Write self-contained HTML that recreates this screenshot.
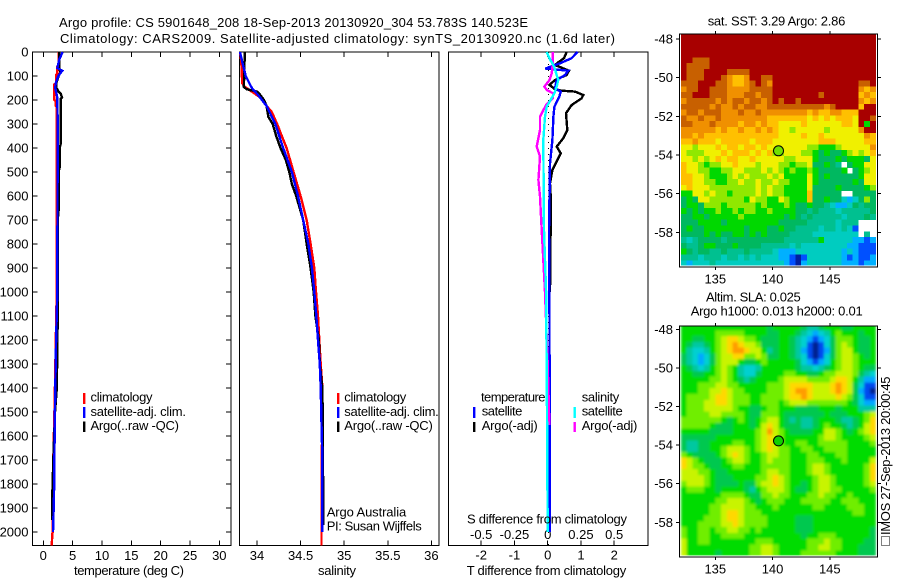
<!DOCTYPE html>
<html lang="en">
<head>
<meta charset="utf-8">
<title>Argo profile 5901648_208</title>
<style>
html,body{margin:0;padding:0;background:#fff;}
svg{display:block;font-family:"Liberation Sans",sans-serif;font-size:13px;fill:#000;}
</style>
</head>
<body>
<svg id="chart" xmlns="http://www.w3.org/2000/svg" width="900" height="580" viewBox="0 0 900 580">
<defs>
<clipPath id="c1"><rect x="680" y="34.5" width="196.5" height="231"/></clipPath>
<clipPath id="c2"><rect x="680" y="326" width="196.5" height="229.5"/></clipPath>
<filter id="soft" x="-5%" y="-5%" width="110%" height="110%"><feGaussianBlur stdDeviation="1.2"/></filter>
</defs>
<rect width="900" height="580" fill="#fff"/>
<text x="59" y="27" textLength="469" lengthAdjust="spacing">Argo profile: CS 5901648_208 18-Sep-2013 20130920_304 53.783S 140.523E</text>
<text x="60" y="43" textLength="555" lengthAdjust="spacing">Climatology: CARS2009. Satellite-adjusted climatology: synTS_20130920.nc (1.6d later)</text>

<g id="series"></g>

<g>
<rect x="83" y="393" width="2.4" height="11" fill="#f00"/>
<rect x="83" y="407" width="2.4" height="11" fill="#00f"/>
<rect x="83" y="421.5" width="2.4" height="10.5" fill="#000"/>
<text x="90.5" y="401.7" textLength="62">climatology</text>
<text x="90.5" y="416" textLength="95.5">satellite-adj. clim.</text>
<text x="90.5" y="430" textLength="88.5">Argo(..raw -QC)</text>
</g>
<g>
<rect x="337" y="393" width="2.4" height="11" fill="#f00"/>
<rect x="337" y="407" width="2.4" height="11" fill="#00f"/>
<rect x="337" y="421.5" width="2.4" height="10.5" fill="#000"/>
<text x="344.3" y="401.7" textLength="62">climatology</text>
<text x="344.3" y="416" textLength="94.5">satellite-adj. clim.</text>
<text x="344.3" y="430" textLength="88.5">Argo(..raw -QC)</text>
<text x="326.7" y="516.7" textLength="79.5">Argo Australia</text>
<text x="326.7" y="530.7" textLength="95">PI: Susan Wijffels</text>
</g>
<g>
<text x="481" y="401.7" textLength="64.5">temperature</text>
<text x="481.7" y="415.7" textLength="40.7">satellite</text>
<text x="481.7" y="430" textLength="56">Argo(-adj)</text>
<rect x="473" y="407" width="2.4" height="11" fill="#00f"/>
<rect x="473" y="422" width="2.4" height="10" fill="#000"/>
<text x="581.7" y="401.7" textLength="37.6">salinity</text>
<text x="581.7" y="415.7" textLength="41">satellite</text>
<text x="581.7" y="430" textLength="55.6">Argo(-adj)</text>
<rect x="573.5" y="407" width="2.4" height="11" fill="#0ff"/>
<rect x="573.5" y="422" width="2.4" height="10" fill="#f0f"/>
</g>

<text x="74" y="575" textLength="110">temperature (deg C)</text>
<text x="318" y="575" textLength="38">salinity</text>
<text x="466.7" y="575" textLength="159.5">T difference from climatology</text>
<text x="467" y="523.5" textLength="160">S difference from climatology</text>

<text x="707.7" y="25.7" textLength="137.6">sat. SST: 3.29 Argo: 2.86</text>
<text x="706" y="301.7" textLength="94.7">Altim. SLA: 0.025</text>
<text x="690.7" y="315.7" textLength="172">Argo h1000: 0.013 h2000: 0.01</text>
<rect x="881.5" y="536.5" width="8" height="9" fill="none" stroke="#000" stroke-width="1" stroke-dasharray="1 1" shape-rendering="crispEdges"/>
<text transform="translate(890 535) rotate(-90)" textLength="158.5">IMOS 27-Sep-2013 20:00:45</text>
</svg>
<script>
const depthTicks = [0,100,200,300,400,500,600,700,800,900,1000,1100,1200,1300,1400,1500,1600,1700,1800,1900,2000];
const tempTicks = [0,5,10,15,20,25,30];
const salTicks = [34,34.5,35,35.5,36];
const tDiffTicks = [-2,-1,0,1,2];
const sDiffTicks = [-0.5,-0.25,0,0.25,0.5];
const lonTicks = [135,140,145];
const latTicks = [-48,-50,-52,-54,-56,-58];

const climTDepth = [0,60,62,90,95,130,135,200,205,225,230,740,1000,1450,1700,2000,2005,2055];
const climT = [2.6,2.6,2.39,2.39,2.2,2.2,1.9,1.9,2.15,2.15,2.28,2.28,2.28,1.95,1.7,1.62,1.55,1.43];
const satTDepth = [0,30,67,78,100,130,150,190,300,1000,1200,1500,1850,2000];
const satT = [3.3,2.73,2.39,3.24,2.56,2.11,2.05,2.39,2.45,2.39,2.18,1.98,1.82,1.65];
const argoTDepth = [0,60,85,100,130,150,165,175,190,195,380,400,480,500,660,700,1110,1400,1500,1700,1830,1950];
const argoT = [2.7,2.7,2.9,2.6,2.2,2.25,2.6,3,3.2,3,3,2.8,2.8,2.6,2.6,2.45,2.45,2.3,2,1.7,1.55,1.55];

const climSDepth = [0,40,130,145,165,190,225,250,300,400,500,600,700,800,900,1000,1100,1200,1300,1400,1600,2055];
const climS = [33.805,33.82,33.83,33.86,33.94,34.04,34.11,34.17,34.23,34.34,34.42,34.5,34.57,34.615,34.657,34.677,34.7,34.715,34.73,34.75,34.745,34.74];
const satSDepth = [0,40,100,150,180,225,300,400,500,600,700,800,900,1000,1100,1200,1300,1400,1550,1700,2000];
const satS = [33.805,33.83,33.87,33.94,34.015,34.11,34.21,34.3,34.4,34.47,34.53,34.59,34.63,34.657,34.68,34.7,34.72,34.73,34.74,34.75,34.75];
const argoSDepth = [0,145,155,165,180,200,225,270,300,350,400,450,500,550,600,700,800,900,1000,1100,1200,1300,1400,1550,1970];
const argoS = [33.86,33.85,33.88,34,34.04,34.08,34.11,34.13,34.18,34.22,34.27,34.33,34.37,34.4,34.45,34.53,34.57,34.615,34.65,34.67,34.71,34.72,34.75,34.755,34.76];

const satDTDepth = [0,26,47,68,69,78,96,117,151,165,186,228,269,366,464,741,1000,2000];
const satDT = [0.9,0.72,0.37,-0.05,-0.05,0.62,0.52,0.27,0.22,0.39,0.35,0.2,0.17,0.14,0.07,0.04,0.05,0.07];
const argoDTDepth = [0,26,43,54,78,96,117,137,155,161,165,179,193,221,255,325,359,394,422,450,491,547,602,672,800,1000];
const argoDT = [0.57,0.49,0.32,0.22,0.64,0.57,0.22,0.05,0.22,0.42,0.82,1.07,1.02,0.72,0.55,0.59,0.47,0.27,0.39,0.29,0.14,0.07,0.09,0.1,0.08,0.07];
const argoDSDepth = [0,47,89,117,144,158,172,193,221,269,325,394,436,533,602,741,1000,1300,1553];
const argoDS = [0.038,0.038,0.03,0.0125,-0.025,-0.0075,0.04,0.04,-0.0125,-0.058,-0.058,-0.083,-0.058,-0.07,-0.058,-0.045,-0.02,0,0.0125];
const satDSDepth = [0,26,61,117,144,172,228,269,366,741,1000,1500,2000];
const satDS = [-0.0075,0.0125,0.048,0.08,0.068,0.05,-0.0075,-0.02,-0.033,-0.028,-0.012,-0.005,0];

const argoFloat = [140.523,-53.783];
const sstColors = ['#0020a0','#0050ff','#00b0ff','#00ccc0','#00c090','#00b860','#00d800','#90e800','#f0f000','#ffc000','#f09000','#c86000','#a80000'];
const slaColors = ['#002090','#0048f0','#00a8ff','#00d0d0','#00c8a0','#00c850','#00dc00','#70ee00','#c8f400','#ffd800','#ff9c00','#c86000','#a80000'];

const sstGrid = [
[12,12,12,12,12,12,12,12,12,12,12,12,12,12,12,12,12,12,12,12,12,12,12,12,12,12,12,12,12,12,12,12,12,12],
[12,12,12,12,12,12,12,12,12,12,12,12,12,12,12,12,12,12,12,12,12,12,12,12,12,12,12,12,12,12,12,12,12,12],
[12,12,12,12,12,12,12,12,12,12,12,12,12,12,12,12,12,12,12,12,12,12,12,12,12,12,12,12,12,12,12,12,12,12],
[12,12,12,12,12,12,12,12,12,12,12,12,12,12,12,12,12,12,12,12,12,12,12,12,12,12,12,12,12,12,12,12,12,12],
[12,12,11,11,11,12,12,12,12,12,12,12,12,12,12,12,12,12,12,12,12,12,12,12,12,12,12,12,12,12,12,12,12,12],
[12,11,11,11,11,12,12,12,12,12,12,12,12,12,12,12,12,12,12,12,12,12,12,12,12,12,12,12,12,12,12,12,12,12],
[12,11,11,11,12,12,12,12,11,11,11,11,12,12,12,12,12,12,12,12,12,12,12,12,12,12,12,12,12,12,12,12,12,12],
[12,11,11,11,12,12,12,11,10,9,9,10,12,12,11,11,12,12,12,12,12,12,12,12,12,12,12,12,12,12,12,12,12,12],
[11,11,11,12,12,12,11,11,10,9,9,10,11,12,11,10,12,12,12,12,12,12,12,12,12,12,12,12,12,12,12,11,11,12],
[10,11,11,12,12,11,11,11,10,10,10,10,11,11,11,11,12,12,12,12,12,12,12,12,12,12,12,12,12,12,12,10,9,10],
[11,11,12,12,12,11,11,11,10,10,10,11,11,10,11,11,12,12,12,12,12,12,12,12,11,12,12,12,12,12,12,9,10,9],
[10,11,11,11,11,11,10,11,10,11,11,10,11,11,10,11,12,11,12,12,11,12,12,12,12,12,12,12,12,12,12,10,9,10],
[11,11,11,11,11,10,11,10,10,11,10,11,11,10,10,11,11,11,11,11,11,11,11,11,11,10,11,12,12,12,12,9,12,12],
[10,11,11,10,11,11,11,10,10,10,11,10,10,11,10,10,10,10,10,10,10,10,9,10,9,9,10,10,9,9,9,12,12,12],
[11,10,10,11,10,10,11,10,10,10,10,10,10,10,10,9,9,9,9,9,9,9,8,9,8,9,8,9,9,9,8,12,12,11],
[11,11,10,10,10,11,10,10,10,10,9,10,10,9,10,9,9,8,8,8,8,9,8,8,8,8,8,8,9,9,8,12,6,12],
[10,10,10,10,10,10,9,10,9,9,10,9,9,10,9,10,9,8,8,7,8,8,8,8,8,7,8,8,8,8,8,10,12,12],
[10,10,9,10,9,9,9,9,9,9,9,9,9,9,9,9,9,8,8,8,8,9,8,8,9,8,8,8,8,8,8,8,10,9],
[9,9,10,9,9,9,8,9,9,9,9,9,8,9,9,9,8,8,8,8,8,8,8,8,9,9,9,8,8,8,8,8,9,9],
[8,8,7,8,8,8,9,8,9,9,8,9,9,8,9,8,8,8,8,8,8,8,7,7,6,6,6,7,8,8,8,8,8,10],
[8,7,7,7,8,8,8,9,8,9,9,9,8,9,8,9,7,7,8,8,8,7,7,6,5,6,5,5,6,7,8,7,8,9],
[8,8,7,8,7,8,9,8,9,9,8,8,9,8,8,8,8,8,7,7,8,8,8,6,5,5,5,6,5,6,6,6,5,8],
[9,8,8,7,6,7,7,8,8,9,8,8,8,7,8,8,8,7,7,6,7,7,8,5,5,6,5,4,-1,5,6,6,8,8],
[9,8,8,7,7,6,6,7,7,8,8,7,7,7,8,7,8,7,6,7,6,6,7,6,5,5,5,5,6,-1,5,6,7,8],
[9,9,8,8,7,6,6,6,7,8,7,8,7,7,7,8,7,8,6,6,6,6,8,6,5,6,5,5,5,5,5,6,8,8],
[9,9,8,8,7,7,6,6,7,7,8,7,7,8,7,7,8,7,7,6,6,6,8,6,5,5,5,5,5,5,6,5,8,8],
[8,9,8,8,8,7,7,7,7,7,7,7,7,8,7,8,7,7,6,6,6,6,8,5,5,5,5,6,5,5,5,5,6,7],
[6,6,8,8,7,8,7,7,6,7,7,7,7,8,7,8,7,7,6,6,6,6,9,5,5,5,5,5,-1,-1,5,5,5,5],
[5,6,5,8,8,7,7,7,7,7,7,6,8,7,7,6,6,8,7,6,6,6,9,5,5,6,5,5,3,2,3,5,7,5],
[5,6,6,5,7,7,7,6,7,7,7,7,7,6,7,6,6,6,7,6,5,5,6,5,5,4,3,2,2,3,5,4,5,5],
[6,5,6,5,6,6,7,6,6,7,6,7,7,6,6,7,6,6,6,6,5,5,4,5,4,4,4,3,4,4,4,4,4,5],
[5,5,6,6,5,6,6,6,6,6,7,6,6,6,6,6,6,6,5,6,5,4,5,4,4,4,4,4,3,4,4,4,5,4],
[5,5,5,6,6,6,6,5,6,6,6,6,6,6,6,6,6,5,5,5,5,5,4,4,4,4,4,3,4,4,4,-1,-1,-1],
[5,6,5,5,6,6,6,6,6,6,6,5,6,6,6,5,5,6,5,5,4,4,4,4,3,4,4,3,4,3,1,-1,-1,-1],
[5,5,5,5,6,5,6,5,5,6,6,5,6,5,6,5,5,5,5,4,4,4,4,3,3,3,3,3,3,3,3,-1,4,-1],
[4,3,4,5,5,5,5,4,5,5,5,5,5,5,5,5,5,5,4,4,4,4,4,4,6,3,3,3,3,3,2,2,1,2],
[5,4,4,5,6,6,5,5,5,6,5,5,5,5,4,4,4,4,4,3,4,3,3,3,3,3,3,3,3,2,2,1,1,1],
[6,5,4,5,5,4,4,5,4,4,4,5,4,4,4,4,3,2,2,2,3,3,3,3,3,3,3,3,2,3,2,1,1,1],
[4,4,4,3,4,4,4,3,4,4,3,4,3,4,3,3,3,2,2,1,0,1,3,3,3,3,3,3,2,1,2,1,1,2],
[3,2,3,3,3,4,3,3,3,3,3,3,3,3,3,3,3,3,2,1,0,2,3,3,3,3,3,3,2,2,2,1,2,2]
];

const slaGrid = [
[6,6,6,6,6,6,6,6,6,6,6,6,6,6,6,5,6,6,6,6,6,5,4,4,5,6,6,6,5,5,6,6,6,6],
[6,6,6,6,6,6,7,7,7,7,7,6,6,6,6,5,5,6,6,6,5,4,3,2,3,4,6,7,6,6,6,5,6,6],
[6,6,5,5,6,6,7,8,9,9,8,7,7,6,5,5,5,6,6,5,4,3,2,1,2,3,5,7,7,7,6,5,5,6],
[6,5,4,4,5,6,7,8,9,10,9,8,8,7,5,5,5,6,6,5,4,3,1,0,1,3,5,7,8,7,6,5,5,6],
[6,4,3,3,4,6,7,8,9,10,10,9,8,8,6,4,5,6,6,5,4,2,1,0,1,2,5,7,8,8,6,5,5,6],
[5,4,3,2,3,5,7,8,8,9,9,7,7,8,7,5,5,6,6,5,4,3,1,0,1,3,5,7,8,8,7,6,5,6],
[5,4,3,2,3,5,7,8,8,8,6,5,5,6,7,6,6,6,6,6,5,3,2,1,2,3,6,7,8,8,7,6,6,6],
[6,5,4,3,4,6,7,8,7,6,4,3,3,4,6,6,6,6,6,6,5,4,4,3,4,5,6,7,8,8,7,6,5,5],
[6,6,5,5,6,6,7,8,7,6,4,3,3,5,6,6,6,6,7,7,6,6,5,5,6,7,7,8,8,8,7,5,4,3],
[6,6,6,6,6,7,7,8,7,6,5,4,5,6,6,6,6,7,8,8,8,8,7,7,7,7,8,9,9,8,6,4,2,2],
[6,6,6,7,7,7,8,8,7,7,6,6,6,6,6,7,7,7,8,9,9,9,9,8,8,8,9,10,9,8,5,3,1,1],
[6,6,6,7,7,8,8,9,8,7,7,6,6,6,6,7,7,7,8,9,10,10,9,8,8,8,9,10,9,8,5,2,1,0],
[6,7,7,7,7,8,9,9,8,7,7,7,6,6,7,7,7,7,8,9,9,10,9,8,8,8,8,9,8,7,5,3,1,1],
[6,7,7,7,8,8,9,9,8,7,7,7,6,6,7,7,7,6,7,8,8,8,7,7,7,7,7,7,7,6,5,3,2,2],
[6,7,7,7,8,8,8,8,8,7,6,6,5,5,6,7,7,6,6,6,5,5,5,5,6,6,6,5,6,6,6,4,4,4],
[6,7,7,7,7,8,8,7,7,7,7,6,5,5,7,7,7,6,5,5,5,5,5,5,5,6,5,5,5,6,6,6,7,8],
[7,7,7,7,7,7,7,6,5,6,7,6,5,6,7,8,8,6,5,4,5,4,4,5,6,6,6,5,4,4,5,6,7,9],
[7,7,7,7,7,6,5,5,5,6,6,6,5,6,8,9,8,6,5,5,5,4,4,5,6,7,6,6,5,4,5,6,8,9],
[6,6,6,6,6,5,5,5,5,6,6,6,6,7,8,10,8,7,6,5,5,5,5,6,6,8,8,7,6,5,6,7,8,9],
[5,5,5,5,5,5,6,6,6,6,6,6,6,7,8,9,8,7,6,6,6,6,6,6,7,8,8,7,6,6,6,6,7,8],
[5,4,4,5,5,6,6,6,6,7,7,6,6,7,8,9,8,7,6,6,7,7,6,6,7,7,7,7,7,6,6,6,6,7],
[5,4,4,5,5,6,6,7,8,8,8,7,6,7,8,9,8,7,7,6,6,7,7,6,6,7,7,7,7,6,6,6,6,6],
[7,6,5,5,5,5,6,7,8,9,8,7,6,6,7,8,8,7,7,6,6,6,7,7,6,6,6,7,7,6,6,6,6,6],
[9,8,7,6,5,5,5,6,7,8,8,7,6,6,7,8,7,7,7,6,6,6,7,7,7,6,6,6,7,6,6,6,6,8],
[9,8,7,7,6,5,5,6,6,7,7,6,6,6,7,7,7,7,7,6,6,6,7,8,8,7,6,6,6,6,6,6,7,9],
[8,8,8,7,7,6,5,5,6,6,6,6,6,6,7,8,8,7,7,6,6,6,7,8,8,7,6,6,6,6,6,6,7,9],
[8,8,8,8,7,6,5,5,5,6,6,6,6,7,7,8,9,8,7,6,6,6,6,7,8,8,7,6,6,6,6,6,7,9],
[7,8,8,8,7,6,5,5,5,5,6,5,5,7,8,8,9,8,7,6,6,5,6,7,8,8,7,6,6,6,6,6,7,8],
[6,7,7,7,6,6,5,6,6,6,6,5,4,6,7,8,8,8,7,6,5,5,6,7,8,8,7,7,6,6,6,6,6,7],
[6,6,6,6,6,6,6,7,7,7,7,6,5,5,7,7,8,7,7,6,6,6,7,7,8,7,7,6,6,7,6,6,6,6],
[6,6,6,6,6,6,7,7,8,8,8,7,6,5,6,7,7,7,6,6,6,7,7,7,7,7,6,6,7,7,7,6,6,6],
[6,6,6,6,6,7,7,8,8,8,8,7,7,6,6,6,7,6,6,6,6,6,6,7,7,6,6,6,6,7,7,7,6,6],
[6,6,6,6,6,7,7,8,9,9,8,7,7,7,6,6,6,6,6,6,6,6,6,6,6,6,6,6,6,6,7,7,6,6],
[6,6,6,6,7,7,7,8,9,9,8,7,7,7,7,6,6,6,6,6,5,5,5,6,6,6,6,6,6,6,6,6,6,6],
[6,6,6,7,7,7,7,8,8,9,8,7,7,7,7,6,6,6,6,6,5,5,5,6,6,6,6,6,6,6,6,6,6,6],
[7,6,6,7,7,6,7,7,8,8,7,7,6,7,6,6,6,6,6,6,5,5,5,6,6,6,6,6,6,6,6,6,6,5],
[7,6,6,7,7,6,6,7,7,7,7,6,6,6,6,6,6,6,6,6,6,5,6,6,7,7,7,6,6,6,6,6,6,5],
[8,6,6,7,7,6,6,6,6,6,6,6,6,7,7,7,6,6,6,6,6,6,7,7,7,8,7,7,6,6,6,6,5,5],
[8,6,6,6,6,6,6,6,6,6,6,6,7,7,8,8,7,6,6,6,6,6,7,7,8,8,7,7,6,6,6,5,5,5],
[8,6,6,6,6,6,5,6,6,6,6,6,7,7,8,8,7,6,6,6,6,7,7,7,7,7,7,6,6,6,6,5,5,5]
];

const NS = 'http://www.w3.org/2000/svg';
const root = document.getElementById('series');

const xTemp = v => 43.3 + 5.867 * v;
const xSal = v => 257 + 87.2 * (v - 34);
const xDT = v => 547.7 + 33.25 * v;
const xDS = v => 547.7 + 133 * v;
const yDepth = d => 52 + 0.2401 * d;
const xLon = v => 715.3 + 11.45 * (v - 135);
const yLat1 = v => 39 + 19.33 * (-48 - v);
const yLat2 = v => 329.3 + 19.3 * (-48 - v);

function make(tag, attrs, parent) {
  const n = document.createElementNS(NS, tag);
  for (const k in attrs) n.setAttribute(k, attrs[k]);
  (parent || root).appendChild(n);
  return n;
}
function hline(x1, y1, x2, y2, parent) {
  return make('line', {x1: x1, y1: y1, x2: x2, y2: y2, stroke: '#000', 'stroke-width': 1, 'shape-rendering': 'crispEdges'}, parent);
}
function label(x, y, s, anchor, parent) {
  const t = make('text', {x: x, y: y, 'text-anchor': anchor}, parent);
  t.textContent = s;
  return t;
}
function profile(depths, values, xf, color, parent) {
  const pts = depths.map((d, i) => xf(values[i]).toFixed(1) + ',' + yDepth(d).toFixed(1)).join(' ');
  return make('polyline', {points: pts, fill: 'none', stroke: color, 'stroke-width': 2.4, 'shape-rendering': 'crispEdges'}, parent);
}
function colorOf(level, palette) {
  return palette[Math.max(0, Math.min(palette.length - 1, Math.round(level)))];
}

/* heat maps */
function drawMap(grid, yLat, name, clip, blur, palette) {
  const g = make('g', {'clip-path': 'url(#' + clip + ')'});
  
  
  const inner = make('g', blur ? {filter: 'url(#soft)'} : {}, g);
  grid.forEach((row, j) => {
    row.forEach((val, i) => {
      if (val < 0) return;
      const x0 = xLon(132 + 0.5 * i), x1 = xLon(132 + 0.5 * (i + 1));
      const y0 = yLat(-47.75 - 0.3 * j), y1 = yLat(-47.75 - 0.3 * (j + 1));
      const r = make('rect', {x: x0.toFixed(2), y: y0.toFixed(2), width: (x1 - x0 + 0.3).toFixed(2), height: (y1 - y0 + 0.3).toFixed(2), fill: colorOf(val, palette), 'shape-rendering': 'crispEdges'}, inner);
      
      
    });
  });
}
drawMap(sstGrid, yLat1, 'sst-heatmap', 'c1', false, sstColors);
drawMap(slaGrid, yLat2, 'sla-heatmap', 'c2', true, slaColors);

/* map frames, ticks, labels */
function mapAxes(top, bottom, yLat, name, fillColor) {
  const g = make('g', {});
  
  
  make('rect', {x: 679.5, y: top, width: 198, height: bottom - top, fill: 'none', stroke: '#000', 'stroke-width': 1, 'shape-rendering': 'crispEdges'}, g);
  lonTicks.forEach(v => {
    hline(xLon(v), top - 3, xLon(v), top, g);
    hline(xLon(v), bottom, xLon(v), bottom + 3, g);
    const t = label(xLon(v), bottom + 16.5, String(v), 'middle', g);
    
    
  });
  latTicks.forEach(v => {
    hline(676, yLat(v), 679.5, yLat(v), g);
    hline(877.5, yLat(v), 881, yLat(v), g);
    const t = label(673, yLat(v) + 4.5, String(v), 'end', g);
    
    
  });
  const c = make('circle', {cx: xLon(argoFloat[0]).toFixed(1), cy: yLat(argoFloat[1]).toFixed(1), r: 5, fill: fillColor, stroke: '#000', 'stroke-width': 1}, g);
  
  
}
mapAxes(34, 267, yLat1, 'sst-map-axes', '#70e000');
mapAxes(326, 557, yLat2, 'sla-map-axes', '#10d000');

/* profile panels */
function panel(left, right, name) {
  const g = make('g', {});
  
  
  make('rect', {x: left, y: 52, width: right - left, height: 493.5, fill: 'none', stroke: '#000', 'stroke-width': 1, 'shape-rendering': 'crispEdges'}, g);
  return g;
}
function xAxisTicks(g, ticks, xf, fmt, baseline, topTicks, bottomTicks) {
  ticks.forEach(v => {
    const x = xf(v);
    if (topTicks) hline(x, 52, x, 57, g);
    if (bottomTicks) hline(x, 540.5, x, 545.5, g);
    const t = label(x, baseline, fmt(v), 'middle', g);
    
    
  });
}

const p1 = panel(32.5, 231, 'temperature-panel');
xAxisTicks(p1, tempTicks, xTemp, String, 560, true, true);
depthTicks.forEach(d => {
  hline(32.5, yDepth(d), 37.5, yDepth(d), p1);
  hline(226, yDepth(d), 231, yDepth(d), p1);
  const t = label(28.5, yDepth(d) + 4.5, String(d), 'end', p1);
  
  
});
const s1 = profile(climTDepth, climT, xTemp, '#f00', p1);


const s2 = profile(argoTDepth, argoT, xTemp, '#000', p1);


const s3 = profile(satTDepth, satT, xTemp, '#00f', p1);



const p2 = panel(239.5, 439, 'salinity-panel');
xAxisTicks(p2, salTicks, xSal, String, 560, true, true);
const s4 = profile(climSDepth, climS, xSal, '#f00', p2);


const s5 = profile(argoSDepth, argoS, xSal, '#000', p2);


const s6 = profile(satSDepth, satS, xSal, '#00f', p2);



const p3 = panel(448.5, 648, 'difference-panel');
xAxisTicks(p3, tDiffTicks, xDT, String, 559.5, true, true);
sDiffTicks.forEach(v => {
  const t = label(xDS(v), 539, v === 0 ? '0' : String(v), 'middle', p3);
  
  
});
const zero = make('line', {x1: xDT(0) + 1, y1: 52, x2: xDT(0) + 1, y2: 545, stroke: '#000', 'stroke-width': 1, 'stroke-dasharray': '1 5', 'shape-rendering': 'crispEdges'}, p3);


const s7 = profile(argoDTDepth, argoDT, xDT, '#000', p3);


const s8 = profile(satDTDepth, satDT, xDT, '#00f', p3);


const s9 = profile(argoDSDepth, argoDS, xDS, '#f0f', p3);


const s10 = profile(satDSDepth, satDS, xDS, '#0ff', p3);


</script>
</body>
</html>
